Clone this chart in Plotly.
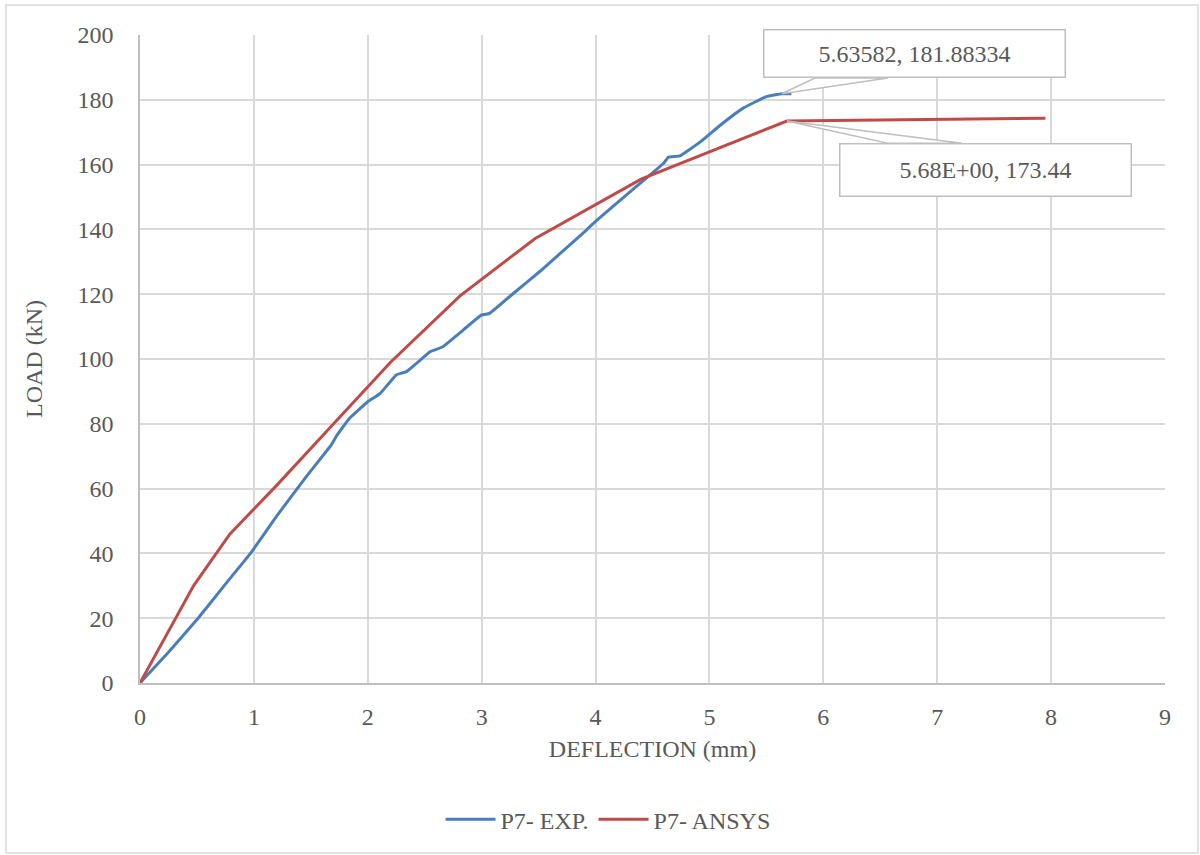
import plotly.graph_objects as go

# Load–deflection readings for specimen P7
exp_deflection = [0, 0.25, 0.51, 0.75, 0.97, 1.2, 1.46, 1.68, 1.73, 1.84, 2.0, 2.11, 2.25, 2.34,
                  2.55, 2.66, 2.84, 3.0, 3.07, 3.28, 3.51, 3.92, 4.0, 4.3, 4.6, 4.64, 4.74,
                  4.92, 5.1, 5.3, 5.5, 5.63582, 5.72]
exp_load = [0, 9.5, 20, 30.5, 40, 51.5, 63.7, 73.5, 76.5, 81.7, 86.8, 89.4, 95.1, 96.1,
            102.3, 103.8, 109, 113.6, 114.1, 120.3, 127, 139.8, 142.5, 151.5, 160.5, 162.3, 162.7,
            167, 172.3, 177.5, 181, 181.88334, 181.9]

ansys_deflection = [0, 0.47, 0.79, 1.2, 1.7, 2.2, 2.81, 3.47, 4.4, 5.68, 7.95]
ansys_load = [0, 30, 46, 61, 80, 99, 119.5, 137.2, 155.5, 173.44, 174.3]

# Peak points called out on the chart
exp_peak = (5.63582, 181.88334)
exp_peak_text = "5.63582, 181.88334"
ansys_peak = (5.68, 173.44)
ansys_peak_text = "5.68E+00, 173.44"

x_ticks = list(range(0, 10))
y_ticks = list(range(0, 201, 20))

FONT = "Liberation Serif"
FS = 24
TXT = "#595959"
GRID = "#d9d9d9"
BLUE = "#4a7ebb"
RED = "#be4b48"

fig = go.Figure()
fig.add_trace(go.Scatter(x=exp_deflection, y=exp_load, mode="lines", name="P7- EXP.",
                         line=dict(color=BLUE, width=3, shape="spline", smoothing=0.3)))
fig.add_trace(go.Scatter(x=ansys_deflection, y=ansys_load, mode="lines", name="P7- ANSYS",
                         line=dict(color=RED, width=3)))

# Callout boxes with wedge-shaped pointers
def callout(pt, text, ax, ay, w, h, wedge):
    fig.add_shape(type="path", xref="x", yref="y", xsizemode="pixel", ysizemode="pixel",
                  xanchor=pt[0], yanchor=pt[1],
                  path=f"M 0 0 L {wedge[0][0]} {wedge[0][1]} L {wedge[1][0]} {wedge[1][1]} Z",
                  line=dict(color="#bfbfbf", width=1.5), fillcolor="white", layer="above")
    fig.add_annotation(x=pt[0], y=pt[1], text=text, showarrow=True, ax=ax, ay=ay,
                       arrowcolor="rgba(0,0,0,0)", arrowwidth=0.1,
                       width=w, height=h, bgcolor="white", bordercolor="#bfbfbf",
                       borderwidth=1.5, borderpad=0,
                       font=dict(family=FONT, size=FS, color=TXT))

callout(exp_peak, exp_peak_text, 133, -40, 300, 46, [(33, 15.7), (106, 15.7)])
callout(ansys_peak, ansys_peak_text, 199, 49, 290, 51, [(101, -22.2), (175, -22.2)])

# Outer chart border
fig.add_shape(type="rect", xref="paper", yref="paper",
              x0=(6 - 140) / 1025, x1=(1198 - 140) / 1025,
              y0=(683 - 853) / 648, y1=(683 - 5) / 648,
              line=dict(color=GRID, width=1.5), fillcolor="rgba(0,0,0,0)", layer="below")

fig.update_layout(
    width=1200, height=855,
    margin=dict(l=140, r=35, t=35, b=172),
    paper_bgcolor="white", plot_bgcolor="white",
    font=dict(family=FONT, size=FS, color=TXT),
    showlegend=True,
    legend=dict(orientation="h", x=0.4566, xanchor="center", y=-0.211, yanchor="middle",
                font=dict(family=FONT, size=FS, color=TXT), itemwidth=50,
                bgcolor="rgba(0,0,0,0)"),
    xaxis=dict(range=[0, 9], tickvals=x_ticks, showgrid=True, gridcolor=GRID, gridwidth=1.5,
               zeroline=False, showline=True, linecolor="#bfbfbf", linewidth=1.5,
               ticks="outside", ticklen=11, tickcolor="rgba(0,0,0,0)",
               title=dict(text="DEFLECTION (mm)", standoff=12,
                          font=dict(family=FONT, size=FS, color=TXT))),
    yaxis=dict(range=[0, 200], tickvals=y_ticks, showgrid=True, gridcolor=GRID, gridwidth=1.5,
               zeroline=False, showline=True, linecolor="#bfbfbf", linewidth=1.5,
               ticks="outside", ticklen=20, tickcolor="rgba(0,0,0,0)",
               title=dict(text="LOAD (kN)", standoff=28,
                          font=dict(family=FONT, size=FS, color=TXT))),
)

fig.write_html("out.html")
